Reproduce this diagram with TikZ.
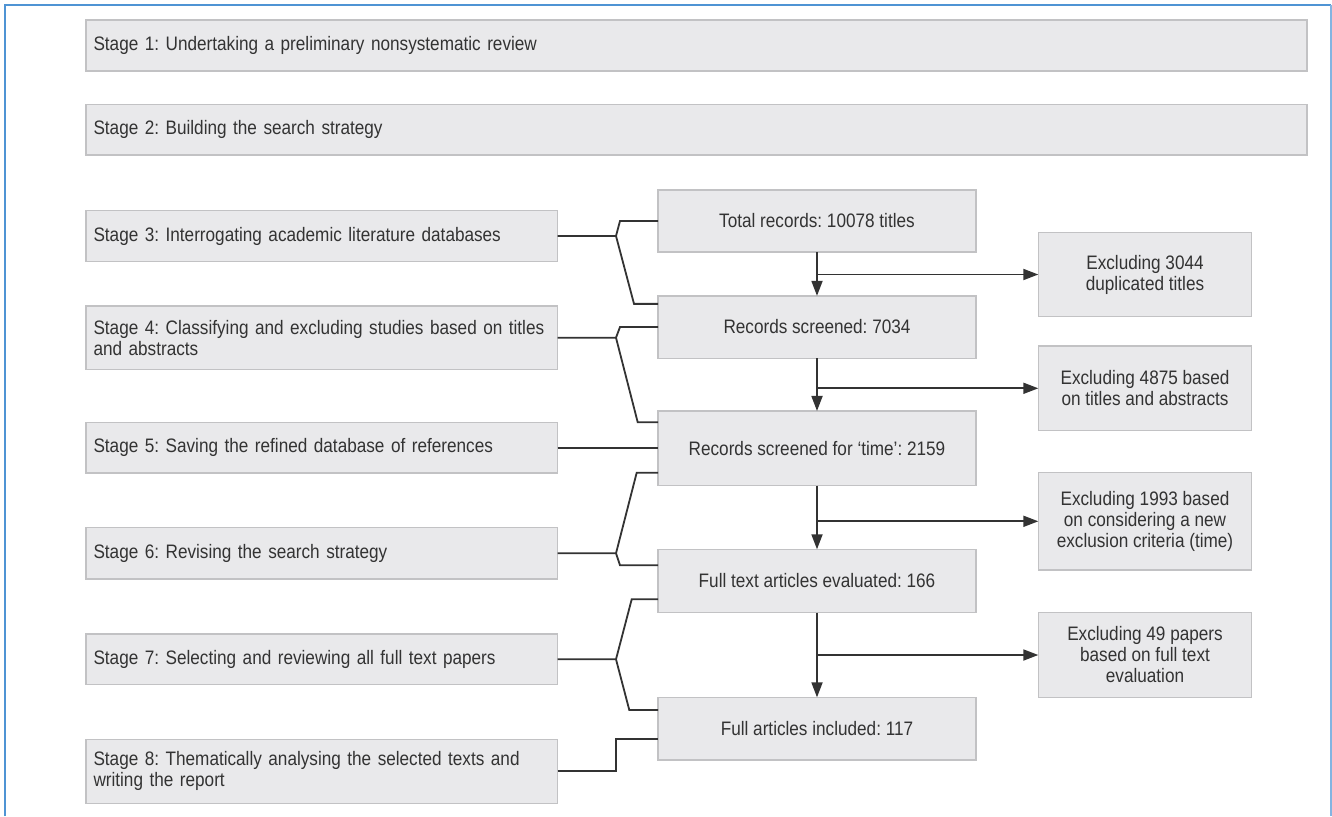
\documentclass[tikz,border=0pt]{standalone}
\usepackage{fontspec}
\setmainfont{Liberation Sans}[FakeStretch=0.88]
\usetikzlibrary{arrows.meta,calc}
\definecolor{boxfill}{HTML}{E9E9EB}
\definecolor{boxline}{HTML}{C2C2C4}
\definecolor{ink}{HTML}{333333}
\definecolor{frameblue}{HTML}{4F94D4}
\frenchspacing
\begin{document}
\begin{tikzpicture}[x=1pt,y=-1pt,
  box/.style={draw=boxline, line width=1.3pt, fill=boxfill, inner sep=0pt, outer sep=0pt,
    text=ink, font=\fontsize{19.5}{21}\selectfont},
  wbox/.style={box, text width=1206pt, inner xsep=7.5pt, align=left},
  lbox/.style={box, text width=456.5pt, inner xsep=7.5pt, align=left},
  mbox/.style={box, minimum width=318pt, align=center},
  rbox/.style={box, minimum width=213.4pt, align=center},
  conn/.style={draw=ink, line width=1.8pt},
  arr/.style={conn, -{Triangle[length=15pt,width=11pt]}}]
\useasboundingbox (0,0) rectangle (1332,816);
\fill[white] (0,0) rectangle (1332,816);
% frame
\draw[frameblue, line width=2.2pt] (5,816) -- (5,5) -- (1331,5);
\draw[frameblue!70, line width=1.5pt] (1331,5) -- (1331,816);
% stage boxes
\node[wbox, minimum height=51pt] (S1) at (696.5,45.5) {Stage 1: Undertaking a preliminary nonsystematic review};
\node[wbox, minimum height=50.5pt] (S2) at (696.5,129.75) {Stage 2: Building the search strategy};
\node[lbox, minimum height=50.6pt] (S3) at (321.75,236) {Stage 3: Interrogating academic literature databases};
\node[lbox, minimum height=63.3pt] (S4) at (321.75,337.7) {Stage 4: Classifying and excluding studies based on titles\\and abstracts};
\node[lbox, minimum height=50.7pt] (S5) at (321.75,447.7) {Stage 5: Saving the refined database of references};
\node[lbox, minimum height=51.3pt] (S6) at (321.75,553.3) {Stage 6: Revising the search strategy};
\node[lbox, minimum height=50.7pt] (S7) at (321.75,659.3) {Stage 7: Selecting and reviewing all full text papers};
\node[lbox, minimum height=64pt] (S8) at (321.75,771.3) {Stage 8: Thematically analysing the selected texts and\\writing the report};
% middle boxes
\node[mbox, minimum height=62pt] (M1) at (817,221) {Total records: 10078 titles};
\node[mbox, minimum height=62.3pt] (M2) at (817,327) {Records screened: 7034};
\node[mbox, minimum height=74.7pt] (M3) at (817,448.3) {Records screened for ‘time’: 2159};
\node[mbox, minimum height=63.4pt] (M4) at (817,581) {Full text articles evaluated: 166};
\node[mbox, minimum height=62.7pt] (M5) at (817,728.7) {Full articles included: 117};
% right boxes
\node[rbox, minimum height=84.4pt] (R1) at (1145,274.5) {Excluding 3044\\duplicated titles};
\node[rbox, minimum height=84.7pt] (R2) at (1145,388.3) {Excluding 4875 based\\on titles and abstracts};
\node[rbox, minimum height=97.3pt] (R3) at (1145,521.3) {Excluding 1993 based\\on considering a new\\exclusion criteria (time)};
\node[rbox, minimum height=84.6pt] (R4) at (1145,655) {Excluding 49 papers\\based on full text\\evaluation};
% vertical flow arrows and exclusions
\draw[arr] (M1.south) -- (M2.north);
\draw[arr] (M1.south |- R1.west) -- (R1.west);
\draw[arr] (M2.south) -- (M3.north);
\draw[arr] (M2.south |- R2.west) -- (R2.west);
\draw[arr] (M3.south) -- (M4.north);
\draw[arr] (M3.south |- R3.west) -- (R3.west);
\draw[arr] (M4.south) -- (M5.north);
\draw[arr] (M4.south |- R4.west) -- (R4.west);
% stage connectors
\coordinate (j3) at ($(S3.east)+(58.5,0)$);
\draw[conn] (S3.east) -- (j3) -- ($(M1.west)+(-38,0)$) -- (M1.west);
\draw[conn] (j3) -- ($(M2.north west)+(-24,8)$) -- ($(M2.north west)+(0,8)$);
\coordinate (j4) at ($(S4.east)+(58.5,0)$);
\draw[conn] (S4.east) -- (j4) -- ($(M2.west)+(-38,0)$) -- (M2.west);
\draw[conn] (j4) -- ($(M3.north west)+(-20.3,11.3)$) -- ($(M3.north west)+(0,11.3)$);
\draw[conn] (S5.east) -- (S5.east -| M3.west);
\coordinate (j6) at ($(S6.east)+(58.5,0)$);
\draw[conn] (S6.east) -- (j6) -- ($(M3.south west)+(-21.3,-13)$) -- ($(M3.south west)+(0,-13)$);
\draw[conn] (j6) -- ($(M4.north west)+(-38,16)$) -- ($(M4.north west)+(0,16)$);
\coordinate (j7) at ($(S7.east)+(58.5,0)$);
\draw[conn] (S7.east) -- (j7) -- ($(M4.south west)+(-26.3,-13.4)$) -- ($(M4.south west)+(0,-13.4)$);
\draw[conn] (j7) -- ($(M5.north west)+(-28.7,12.7)$) -- ($(M5.north west)+(0,12.7)$);
\coordinate (e8) at ($(M5.south west)+(0,-21)$);
\draw[conn] (S8.east) -- ++(58.5,0) |- (e8);
\end{tikzpicture}
\end{document}
